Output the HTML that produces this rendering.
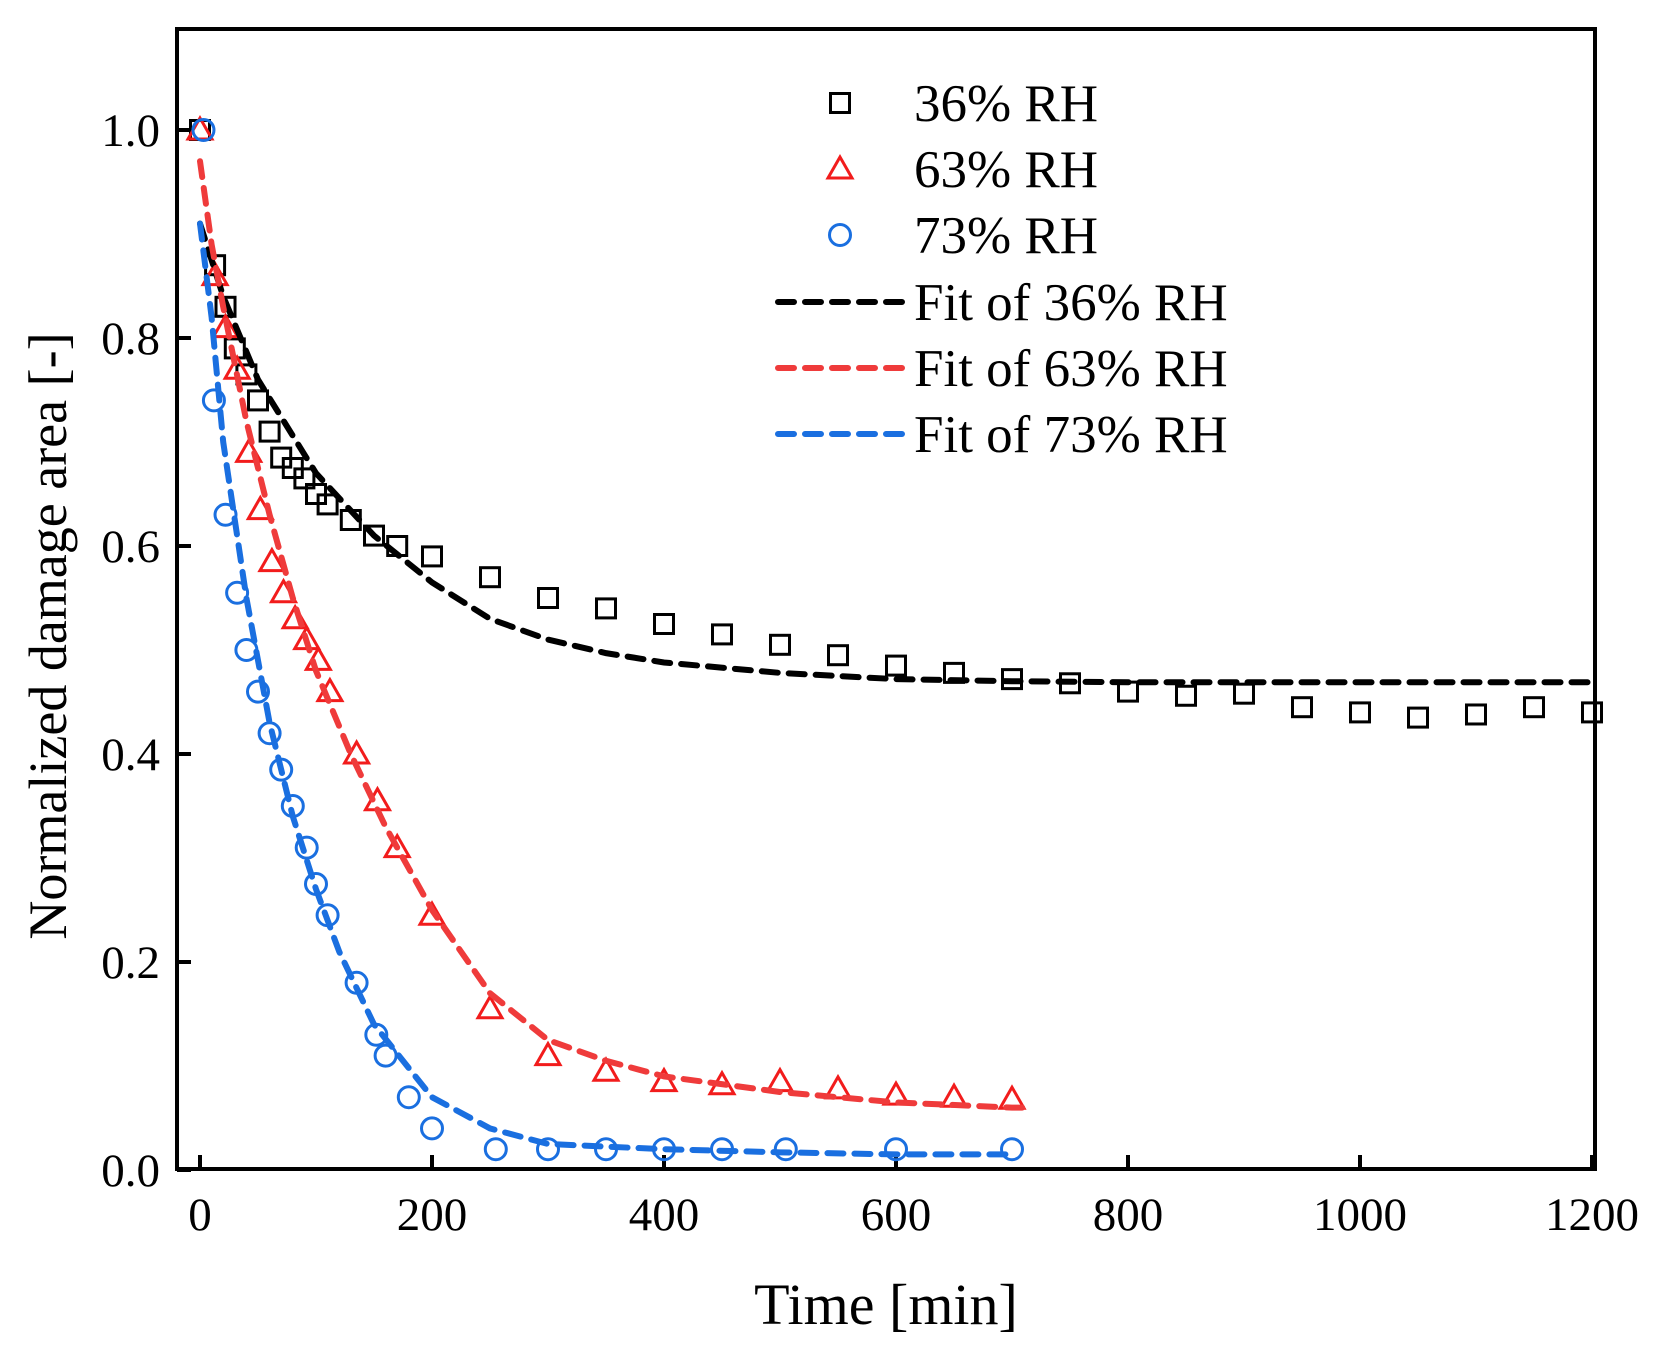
<!DOCTYPE html>
<html><head><meta charset="utf-8"><style>
html,body{margin:0;padding:0;background:#fff}
svg text{font-family:"Liberation Serif",serif;fill:#000}
</style></head><body>
<svg id="chart" width="1663" height="1358" viewBox="0 0 1663 1358">
<rect x="177" y="29" width="1418" height="1140" fill="none" stroke="#000" stroke-width="4"/>
<g id="ticks"></g>
<g id="series"></g>
<text x="886" y="1324" font-size="58" text-anchor="middle">Time [min]</text>
<text transform="translate(66,636) rotate(-90)" font-size="54" text-anchor="middle">Normalized damage area [-]</text>
<g id="legend"></g>
</svg>
<script>
const xTicks=[0,200,400,600,800,1000,1200];
const yTicks=[0.0,0.2,0.4,0.6,0.8,1.0];
const yTickLabels=["0.0","0.2","0.4","0.6","0.8","1.0"];
const t36=[0,13,22,30,40,50,60,70,80,90,100,110,130,150,170,200,250,300,350,400,450,500,550,600,650,700,750,800,850,900,950,1000,1050,1100,1150,1200];
const v36=[1.0,0.87,0.83,0.79,0.765,0.74,0.71,0.685,0.675,0.665,0.65,0.64,0.625,0.61,0.6,0.59,0.57,0.55,0.54,0.525,0.515,0.505,0.495,0.485,0.478,0.472,0.468,0.46,0.456,0.458,0.445,0.44,0.435,0.438,0.445,0.44];
const t63=[0,13,22,32,42,52,62,72,82,92,102,112,135,153,170,200,250,300,350,400,450,500,550,600,650,700];
const v63=[1.0,0.86,0.81,0.77,0.69,0.635,0.585,0.555,0.53,0.51,0.49,0.46,0.40,0.355,0.31,0.245,0.155,0.11,0.095,0.085,0.082,0.085,0.078,0.072,0.07,0.068];
const t73=[3,12,22,32,40,50,60,70,80,92,100,110,135,152,160,180,200,255,300,350,400,450,505,600,700];
const v73=[1.0,0.74,0.63,0.555,0.5,0.46,0.42,0.385,0.35,0.31,0.275,0.245,0.18,0.13,0.11,0.07,0.04,0.02,0.02,0.02,0.02,0.02,0.02,0.02,0.02];
const f36t=[0,20,50,100,150,200,250,300,350,400,500,600,700,800,1000,1200];
const f36v=[0.91,0.84,0.76,0.67,0.61,0.565,0.53,0.51,0.497,0.488,0.478,0.472,0.47,0.469,0.469,0.469];
const f63t=[0,10,20,40,60,80,100,130,160,200,250,300,350,400,500,600,700,710];
const f63v=[0.97,0.89,0.83,0.72,0.63,0.55,0.48,0.40,0.33,0.25,0.17,0.125,0.105,0.09,0.075,0.065,0.06,0.06];
const f73t=[0,10,20,40,60,80,100,120,150,200,250,300,400,500,600,700];
const f73v=[0.91,0.82,0.70,0.55,0.43,0.34,0.27,0.21,0.14,0.07,0.04,0.025,0.02,0.017,0.015,0.015];
const NS="http://www.w3.org/2000/svg";
const X=v=>200+v*(1392/1200);
const Y=v=>1170-v*1040;
function mk(tag,attrs,parent){const e=document.createElementNS(NS,tag);for(const k in attrs)e.setAttribute(k,attrs[k]);parent.appendChild(e);return e;}
const tg=document.getElementById('ticks');
xTicks.forEach(v=>{
  const l=mk('line',{x1:X(v),x2:X(v),y1:1169,y2:1155,stroke:'#000','stroke-width':4},tg);
  
  
  const t=mk('text',{x:X(v),y:1230,'font-size':47,'text-anchor':'middle'},tg);t.textContent=v;
  
  
});
yTicks.forEach((v,i)=>{
  const l=mk('line',{x1:177,x2:191,y1:Y(v),y2:Y(v),stroke:'#000','stroke-width':4},tg);
  
  
  const t=mk('text',{x:160,y:Y(v)+16,'font-size':47,'text-anchor':'end'},tg);t.textContent=yTickLabels[i];
  
  
});
const sg=document.getElementById('series');
function fit(ts,vs,col,name){
  const p=mk('polyline',{points:ts.map((t,i)=>X(t)+','+Y(vs[i])).join(' '),fill:'none',stroke:col,'stroke-width':6,'stroke-dasharray':'16 11','stroke-linecap':'round'},sg);
  
  
}
function sq(x,y,g){return mk('rect',{x:x-9.5,y:y-9.5,width:19,height:19,fill:'none',stroke:'#000','stroke-width':3},g);}
function tri(x,y,g){return mk('polygon',{points:`${x},${y-12} ${x-12},${y+9} ${x+12},${y+9}`,fill:'none',stroke:'#f21c1c','stroke-width':3},g);}
function circ(x,y,g){return mk('circle',{cx:x,cy:y,r:10.5,fill:'none',stroke:'#1a6fe0','stroke-width':3},g);}
function pts(ts,vs,fn,name){ts.forEach((t,i)=>{const e=fn(X(t),Y(vs[i]),sg);
  
  });}
pts(t36,v36,sq,'point-36rh');
pts(t63,v63,tri,'point-63rh');
pts(t73,v73,circ,'point-73rh');
fit(f36t,f36v,'#000','fit-36rh');
fit(f63t,f63v,'#ef3b3b','fit-63rh');
fit(f73t,f73v,'#1a6fe0','fit-73rh');
const lg=document.getElementById('legend');
const rows=[103,169,235,302,368,434];
const labels=["36% RH","63% RH","73% RH","Fit of 36% RH","Fit of 63% RH","Fit of 73% RH"];
const mks=[sq,tri,circ];
const cols=['#000','#ef3b3b','#1a6fe0'];
labels.forEach((s,i)=>{
  if(i<3){const e=mks[i](840,rows[i],lg);
    
    }
  else{const e=mk('line',{x1:778,x2:902,y1:rows[i],y2:rows[i],stroke:cols[i-3],'stroke-width':6,'stroke-dasharray':'16 11','stroke-linecap':'round'},lg);
    
    }
  const t=mk('text',{x:914,y:rows[i]+18,'font-size':53},lg);t.textContent=s;
  
  
});
</script>
</body></html>
